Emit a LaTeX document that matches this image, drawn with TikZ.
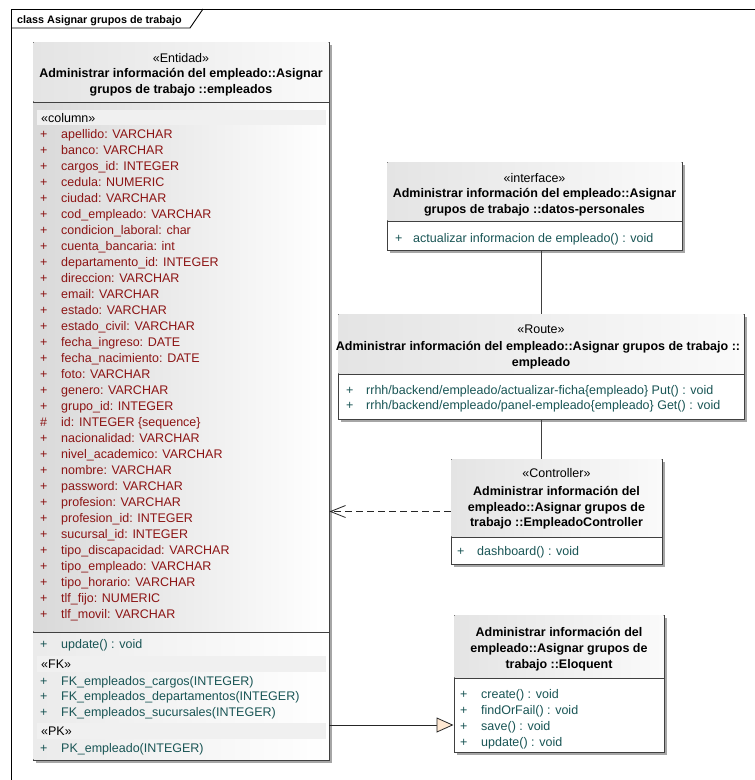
\documentclass[tikz,border=0pt]{standalone}
\usepackage{fontspec}
\setmainfont{Liberation Sans}
\usetikzlibrary{arrows.meta,shadows}

\definecolor{attrc}{RGB}{140,20,20}
\definecolor{mthc}{RGB}{25,85,85}
\definecolor{genfill}{RGB}{255,232,210}
\definecolor{hdrL}{RGB}{228,228,228}
\definecolor{hdrR}{RGB}{250,250,250}
\newcommand{\umlfont}{\fontsize{12.5}{16}\selectfont}

\begin{document}
\begin{tikzpicture}
   [x=1pt,y=-1pt,
    box/.style={draw=black!75,line width=0.9pt,fill=white,inner sep=0pt,
      drop shadow={shadow xshift=3pt,shadow yshift=-3pt,fill=black!35,opacity=1}},
    hdr/.style={left color=hdrL,right color=hdrR,draw=none},
    sep/.style={draw=black!75,line width=0.9pt},
    band/.style={fill=black!6,draw=none},
    stereo/.style={anchor=base,inner sep=0pt,font=\umlfont},
    title/.style={anchor=base,inner sep=0pt,font=\umlfont\bfseries},
    attr/.style={anchor=base west,inner sep=0pt,font=\umlfont,text=attrc},
    meth/.style={anchor=base west,inner sep=0pt,font=\umlfont,text=mthc},
    tag/.style={anchor=base west,inner sep=0pt,font=\umlfont},
    dep/.style={draw=black!85,line width=0.8pt,dash pattern=on 7pt off 4pt,
      -{Straight Barb[length=15pt,width=12pt,line width=0.8pt]}},
    gen/.style={draw=black!85,line width=0.8pt,
      -{Triangle[open,fill=genfill,length=17pt,width=15pt,line width=0.8pt]}}]
  \useasboundingbox (0,0) rectangle (755,780);

  % frame
  \draw[line width=0.9pt] (11,780) -- (11,9) -- (755,9);
  \node[anchor=base west,inner sep=0pt,font=\fontsize{10.8}{12}\selectfont\bfseries] (frame) at (17,23) {class Asignar grupos de trabajo};
  \draw[line width=0.9pt] (11,28) -- (190,28) -- (203,9);

  % entity
  \node[box,minimum width=296pt,minimum height=718pt] (ent) at (181,401) {};
  \shade[hdr] (33.5,42.5) rectangle (328.5,101.5);
  \shade[left color=black!15,middle color=white,right color=white] (33.5,102.5) rectangle (328.5,631.5);
  \shade[left color=black!8,middle color=white,right color=white] (33.5,632.5) rectangle (328.5,759.5);
  \draw[sep] (33,102) -- (329,102);
  \draw[sep] (33,632) -- (329,632);
  \node[stereo] (entS) at (181,62) {«Entidad»};
  \node[title] (entT1) at (181,77) {Administrar información del empleado::Asignar};
  \node[title] (entT2) at (181,93) {grupos de trabajo ::empleados};
  \fill[band] (37,110) rectangle (326,125);
  \node[tag] (col) at (41,122) {«column»};
  \foreach \v/\t [count=\i from 0] in {+/apellido: VARCHAR, +/banco: VARCHAR, +/cargos\_id: INTEGER,
      +/cedula: NUMERIC, +/ciudad: VARCHAR, +/cod\_empleado: VARCHAR, +/condicion\_laboral: char,
      +/cuenta\_bancaria: int, +/departamento\_id: INTEGER, +/direccion: VARCHAR, +/email: VARCHAR,
      +/estado: VARCHAR, +/estado\_civil: VARCHAR, +/fecha\_ingreso: DATE, +/fecha\_nacimiento: DATE,
      +/foto: VARCHAR, +/genero: VARCHAR, +/grupo\_id: INTEGER, \#/id: INTEGER \{sequence\},
      +/nacionalidad: VARCHAR, +/nivel\_academico: VARCHAR, +/nombre: VARCHAR, +/password: VARCHAR,
      +/profesion: VARCHAR, +/profesion\_id: INTEGER, +/sucursal\_id: INTEGER,
      +/tipo\_discapacidad: VARCHAR, +/tipo\_empleado: VARCHAR, +/tipo\_horario: VARCHAR,
      +/tlf\_fijo: NUMERIC, +/tlf\_movil: VARCHAR}
  {
    \node[attr] (atv\i) at (40,138.5+16*\i) {\v};
    \node[attr] (at\i) at (61,138.5+16*\i) {\t};
  }
  \node[meth] (entUv) at (40,648) {+};
  \node[meth] (entU) at (61,648) {update() : void};
  \fill[band] (37,656) rectangle (326,672);
  \node[tag] (fk) at (41,668) {«FK»};
  \foreach \t [count=\i from 0] in {FK\_empleados\_cargos(INTEGER), FK\_empleados\_departamentos(INTEGER),
      FK\_empleados\_sucursales(INTEGER)}
  {
    \node[meth] (fkv\i) at (40,685+15.8*\i) {+};
    \node[meth] (fk\i) at (61,685+15.8*\i) {\t};
  }
  \fill[band] (37,723) rectangle (326,739);
  \node[tag] (pk) at (41,735) {«PK»};
  \node[meth] (pkv) at (40,752) {+};
  \node[meth] (pk0) at (61,752) {PK\_empleado(INTEGER)};

  % interface
  \node[box,minimum width=295pt,minimum height=88pt] (ifc) at (534.5,206) {};
  \shade[hdr] (387.5,162.5) rectangle (681.5,220.5);
  \draw[sep] (387,221) -- (682,221);
  \node[stereo] (ifcS) at (534.5,182) {«interface»};
  \node[title] (ifcT1) at (534.5,197) {Administrar información del empleado::Asignar};
  \node[title] (ifcT2) at (534.5,213) {grupos de trabajo ::datos-personales};
  \node[meth] (ifcMv) at (395,242) {+};
  \node[meth] (ifcM) at (413,242) {actualizar informacion de empleado() : void};

  % route
  \node[box,minimum width=406pt,minimum height=105pt] (rte) at (541,366.5) {};
  \shade[hdr] (338.5,314.5) rectangle (743.5,373.5);
  \draw[sep] (338,374) -- (744,374);
  \node[stereo] (rteS) at (541,333) {«Route»};
  \node[title] (rteT1) at (538,350) {Administrar información del empleado::Asignar grupos de trabajo ::};
  \node[title] (rteT2) at (541,366) {empleado};
  \node[meth] (rteM1v) at (346,394) {+};
  \node[meth] (rteM1) at (366,394) {rrhh/backend/empleado/actualizar-ficha\{empleado\} Put() : void};
  \node[meth] (rteM2v) at (346,409) {+};
  \node[meth] (rteM2) at (366,409) {rrhh/backend/empleado/panel-empleado\{empleado\} Get() : void};

  % controller
  \node[box,minimum width=211pt,minimum height=105pt] (ctl) at (556.5,511.5) {};
  \shade[hdr] (451.5,459.5) rectangle (661.5,536.5);
  \draw[sep] (451,537) -- (662,537);
  \node[stereo] (ctlS) at (556.5,477) {«Controller»};
  \node[title] (ctlT1) at (556.5,495) {Administrar información del};
  \node[title] (ctlT2) at (556.5,511) {empleado::Asignar grupos de};
  \node[title] (ctlT3) at (556.5,526) {trabajo ::EmpleadoController};
  \node[meth] (ctlMv) at (457,555.5) {+};
  \node[meth] (ctlM) at (477,555.5) {dashboard() : void};

  % eloquent
  \node[box,minimum width=210pt,minimum height=137pt] (elq) at (559,683.5) {};
  \shade[hdr] (454.5,615.5) rectangle (663.5,677.5);
  \draw[sep] (454,678) -- (664,678);
  \node[title] (elqT1) at (559,636) {Administrar información del};
  \node[title] (elqT2) at (559,652) {empleado::Asignar grupos de};
  \node[title] (elqT3) at (559,668) {trabajo ::Eloquent};
  \foreach \t [count=\i from 0] in {create() : void, findOrFail() : void, save() : void, update() : void}
  {
    \node[meth] (elqv\i) at (460,698+16*\i) {+};
    \node[meth] (elqM\i) at (481,698+16*\i) {\t};
  }

  % connectors
  \coordinate (elqIn) at (453.5,725);
  \draw[sep] (rte.north) -- (rte.north |- ifc.south);
  \draw[sep] (rte.south) -- (rte.south |- ctl.north);
  \draw[dep] (ctl.west) -- (ctl.west -| ent.east);
  \draw[gen] (elqIn -| ent.east) -- (elqIn);

\end{tikzpicture}
\end{document}
